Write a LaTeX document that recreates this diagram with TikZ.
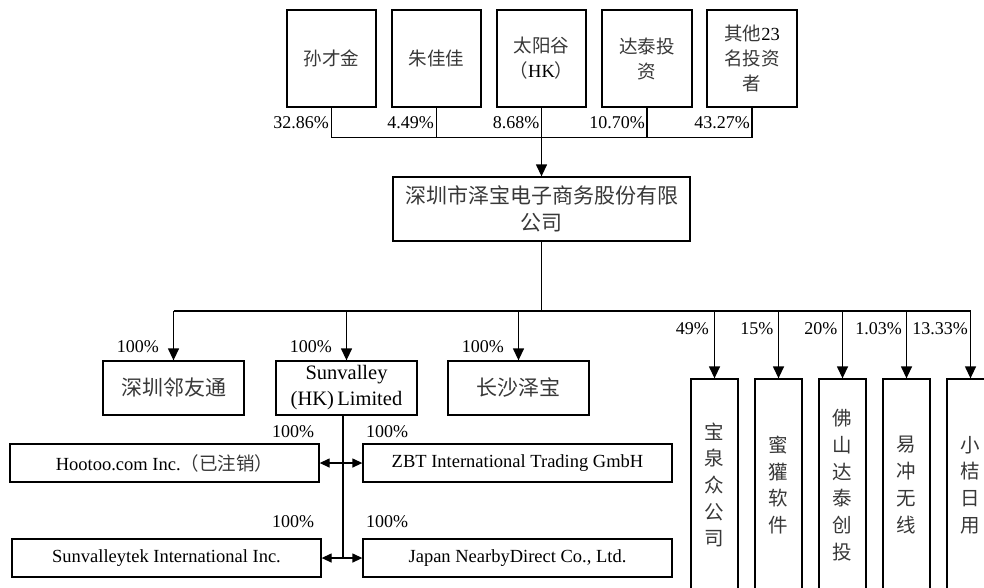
\documentclass[tikz,border=0pt]{standalone}
\usepackage{fontspec}
\setmainfont{Liberation Serif}
\newfontfamily\cjkf{Noto Sans CJK SC}
\usetikzlibrary{arrows.meta}
\newcommand\zh[1]{{\cjkf\color{black!78}#1}}
\tikzset{
  box/.style={draw, line width=1.3pt, inner sep=0pt, align=center},
  conn/.style={line width=1.3pt},
  arr/.style={conn, -{Triangle[length=12pt,width=11pt]}},
  darr/.style={conn, {Triangle[length=10pt,width=9pt]}-{Triangle[length=10pt,width=9pt]}},
  pct/.style={inner sep=0pt, font=\fontsize{18pt}{20pt}\selectfont},
  topf/.style={font=\fontsize{18.5pt}{25pt}\selectfont},
  vert/.style={font=\fontsize{19.5pt}{26.7pt}\selectfont},
}
\begin{document}
\begin{tikzpicture}[x=1pt,y=-1pt]
\clip (0,0) rectangle (984,587);
\fill[white] (0,0) rectangle (984,587);
% shareholders
\node[box, topf, minimum width=89pt, minimum height=97pt] (s1) at (331.5,58.5) {\zh{孙才金}};
\node[box, topf, minimum width=89pt, minimum height=97pt] (s2) at (436.5,58.5) {\zh{朱佳佳}};
\node[box, topf, minimum width=89pt, minimum height=97pt] (s3) at (541.5,58.5) {\zh{太阳谷}\\\zh{（}HK\zh{）}};
\node[box, topf, minimum width=90pt, minimum height=97pt] (s4) at (647,58.5) {\zh{达泰投}\\\zh{资}};
\node[box, topf, minimum width=90pt, minimum height=97pt] (s5) at (752,58.5) {\zh{其他}23\\\zh{名投资}\\\zh{者}};
% main company
\node[box, font=\fontsize{21pt}{27pt}\selectfont, minimum width=297pt, minimum height=64pt] (main) at (541.5,209) {\zh{深圳市泽宝电子商务股份有限}\\\zh{公司}};
% top connectors
\draw[conn] (s1.south) -- ++(0,30) -| (s5.south);
\draw[conn] (s2.south) -- ++(0,30);
\draw[conn] (s4.south) -- ++(0,30);
\draw[arr] (s3.south) -- (main.north);
\node[pct, anchor=east] (p1) at (329,123) {32.86\%};
\node[pct, anchor=east] (p2) at (434,123) {4.49\%};
\node[pct, anchor=east] (p3) at (539.5,123) {8.68\%};
\node[pct, anchor=east] (p4) at (645,123) {10.70\%};
\node[pct, anchor=east] (p5) at (750,123) {43.27\%};
% subsidiaries row
\node[box, font=\fontsize{21pt}{25pt}\selectfont, minimum width=141pt, minimum height=54pt] (n1) at (173.5,388) {\zh{深圳邻友通}};
\node[box, font=\fontsize{20.5pt}{26pt}\selectfont, minimum width=141pt, minimum height=54pt] (n2) at (346.5,388) {Sunvalley\\(HK)\,Limited};
\node[box, font=\fontsize{21pt}{25pt}\selectfont, minimum width=141pt, minimum height=54pt] (n3) at (518.5,388) {\zh{长沙泽宝}};
% right boxes
\node[box, vert, minimum width=47pt, minimum height=212pt] (r1) at (714.5,485) {\zh{宝}\\\zh{泉}\\\zh{众}\\\zh{公}\\\zh{司}};
\node[box, vert, minimum width=47pt, minimum height=212pt] (r2) at (778.5,485) {\zh{蜜}\\\zh{獾}\\\zh{软}\\\zh{件}};
\node[box, vert, minimum width=47pt, minimum height=212pt] (r3) at (842.5,485) {\zh{佛}\\\zh{山}\\\zh{达}\\\zh{泰}\\\zh{创}\\\zh{投}};
\node[box, vert, minimum width=47pt, minimum height=212pt] (r4) at (906.5,485) {\zh{易}\\\zh{冲}\\\zh{无}\\\zh{线}};
\node[box, vert, minimum width=47pt, minimum height=212pt] (r5) at (970.5,485) {\zh{小}\\\zh{桔}\\\zh{日}\\\zh{用}};
% bus
\coordinate (busL) at (173.5,311);
\coordinate (busR) at (970.5,311);
\draw[conn] (main.south) -- (main.south |- busL);
\draw[conn] (busL) -- (busR);
\draw[arr] (busL) -- (n1.north);
\draw[arr] (n2.north |- busL) -- (n2.north);
\draw[arr] (n3.north |- busL) -- (n3.north);
\draw[arr] (r1.north |- busL) -- (r1.north);
\draw[arr] (r2.north |- busL) -- (r2.north);
\draw[arr] (r3.north |- busL) -- (r3.north);
\draw[arr] (r4.north |- busL) -- (r4.north);
\draw[arr] (busR) -- (r5.north);
\node[pct, anchor=east] (q1) at (159,347) {100\%};
\node[pct, anchor=east] (q2) at (332,347) {100\%};
\node[pct, anchor=east] (q3) at (504,347) {100\%};
\node[pct, anchor=east] (t1) at (709,329) {49\%};
\node[pct, anchor=east] (t2) at (773.5,329) {15\%};
\node[pct, anchor=east] (t3) at (837.5,329) {20\%};
\node[pct, anchor=east] (t4) at (902,329) {1.03\%};
\node[pct, anchor=east] (t5) at (968,329) {13.33\%};
% second-level subsidiaries
\node[box, font=\fontsize{18.5pt}{22pt}\selectfont, minimum width=309pt, minimum height=38pt] (h1) at (164.5,463) {Hootoo.com Inc.\zh{（已注销）}};
\node[box, font=\fontsize{18.5pt}{22pt}\selectfont, minimum width=309pt, minimum height=38pt] (h2) at (517.5,463) {ZBT International Trading GmbH};
\node[box, font=\fontsize{18.5pt}{22pt}\selectfont, minimum width=309pt, minimum height=38pt] (h3) at (166.5,558) {Sunvalleytek International Inc.};
\node[box, font=\fontsize{18.5pt}{22pt}\selectfont, minimum width=309pt, minimum height=38pt] (h4) at (517.5,558) {Japan NearbyDirect Co., Ltd.};
\coordinate (j1) at (343,463);
\coordinate (j2) at (343,558);
\draw[conn] (n2.south -| j1) -- (j2);
\draw[darr] (h1.east) -- (h2.west);
\draw[darr] (h3.east) -- (h4.west);
\node[pct] (u1) at (293,432) {100\%};
\node[pct] (u2) at (387,432) {100\%};
\node[pct] (u3) at (293,522) {100\%};
\node[pct] (u4) at (387,522) {100\%};
\end{tikzpicture}
\end{document}
